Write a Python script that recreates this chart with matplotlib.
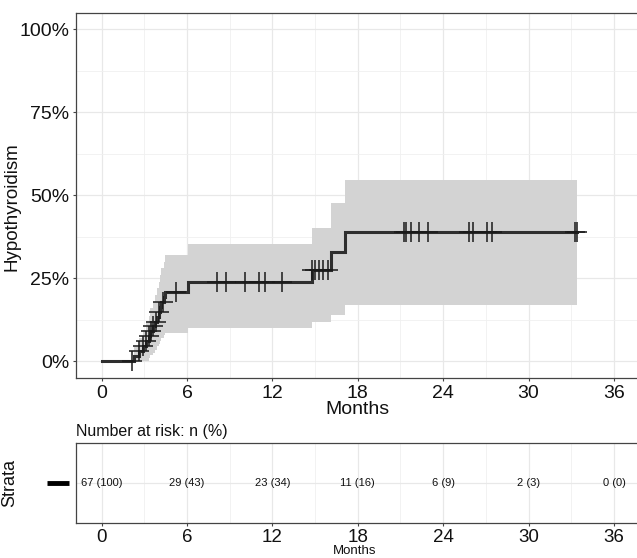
import numpy as np
import matplotlib
matplotlib.use("Agg")
import matplotlib.pyplot as plt
from matplotlib.ticker import MultipleLocator
from matplotlib.lines import Line2D

plt.rcParams['font.family'] = ['Liberation Sans', 'DejaVu Sans']

# ---- data ----
# event times (months) and cumulative incidence after each step
event_times = [0, 2.3, 2.6, 2.9, 3.1, 3.3, 3.4, 3.6, 3.75, 3.9, 4.0, 4.1, 4.2, 4.35, 4.45,
               6.05, 14.8, 16.1, 17.1, 33.38]
cum_inc = [0.0, 0.015, 0.030, 0.045, 0.060, 0.075, 0.090, 0.105, 0.120, 0.135, 0.150,
           0.165, 0.180, 0.195, 0.209, 0.238, 0.275, 0.330, 0.388, 0.388]
ci_lower = [0.0, 0.0, 0.0, 0.0, 0.001, 0.010, 0.018, 0.026, 0.035, 0.045, 0.053,
            0.062, 0.070, 0.078, 0.085, 0.099, 0.118, 0.140, 0.169, 0.169]
ci_upper = [0.0, 0.044, 0.070, 0.094, 0.117, 0.138, 0.160, 0.180, 0.200, 0.220, 0.240,
            0.260, 0.280, 0.300, 0.320, 0.353, 0.400, 0.476, 0.547, 0.547]

censor_times = [2.1, 2.6, 2.9, 3.1, 3.3, 3.5, 3.6, 3.85, 4.05, 4.3, 5.25,
                8.1, 8.75, 10.1, 11.06, 11.45, 12.68, 14.8,
                14.98, 15.28, 15.56, 15.91,
                21.26, 21.36, 21.71, 22.31, 22.95, 25.81, 26.11, 27.1, 27.45,
                33.26, 33.38]

risk_times = [0, 6, 12, 18, 24, 30, 36]
risk_n = [67, 29, 23, 11, 6, 2, 0]
risk_pct = [100, 43, 34, 16, 9, 3, 0]

y_ticks = [0, 0.25, 0.5, 0.75, 1.0]
y_tick_labels = ['0%', '25%', '50%', '75%', '100%']
x_ticks = [0, 6, 12, 18, 24, 30, 36]

# ---- figure ----
W, H = 637, 558
fig = plt.figure(figsize=(W / 100, H / 100), dpi=100)

x0, x1 = 76, 639.6
ax = fig.add_axes([x0 / W, 1 - 378 / H, (x1 - x0) / W, (378 - 12.5) / H])
ax.set_xlim(-1.8, 37.8)
ax.set_ylim(-0.05, 1.05)

grid_major = '#e8e8e8'
grid_minor = '#f0f0f0'

def style_axes(a, size=14, pad=2.5):
    a.set_facecolor('white')
    for s in a.spines.values():
        s.set_color('#444444')
        s.set_linewidth(0.9)
    a.grid(True, which='major', color=grid_major, linewidth=0.9, zorder=0)
    a.grid(True, which='minor', color=grid_minor, linewidth=0.6, zorder=0)
    a.set_axisbelow(True)
    a.tick_params(which='major', labelsize=size, length=2.5, width=0.8,
                  color='#444444', labelcolor='#111111', pad=pad)
    a.tick_params(which='minor', length=0)

style_axes(ax)
ax.set_xticks(x_ticks)
ax.xaxis.set_minor_locator(MultipleLocator(3))
ax.set_yticks(y_ticks)
ax.set_yticklabels(y_tick_labels)
ax.yaxis.set_minor_locator(MultipleLocator(0.125))

t = np.array(event_times)
ci = np.array(cum_inc)
ax.fill_between(t, ci_lower, ci_upper, step='post', color='#d3d3d3', linewidth=0, zorder=1)
ax.step(t, ci, where='post', color='#2e2e2e', linewidth=2.2, zorder=3, solid_joinstyle='miter')

ct = np.array(censor_times)
idx = np.searchsorted(t, ct, side='right') - 1
cy = ci[idx]
ax.plot(ct, cy, linestyle='none', marker='+', markersize=14, markeredgewidth=1.1,
        color='#1a1a1a', zorder=4)

ax.set_xlabel('Months', fontsize=14, labelpad=-1, color='#111111')
ax.set_ylabel('Hypothyroidism', fontsize=13.5, color='#111111')
ax.yaxis.set_label_coords((21 - x0) / (x1 - x0), 0.47)

# ---- risk table ----
tax = fig.add_axes([x0 / W, 1 - 523 / H, (x1 - x0) / W, (523 - 443) / H])
style_axes(tax, size=13.5, pad=1.5)
tax.set_xlim(-1.8, 37.8)
tax.set_ylim(0.5, 1.5)
tax.set_xticks(x_ticks)
tax.xaxis.set_minor_locator(MultipleLocator(3))
tax.set_yticks([1])
tax.set_yticklabels([''])
tax.tick_params(axis='y', length=0)
for tt, n, p in zip(risk_times, risk_n, risk_pct):
    tax.text(tt, 1, f'{n} ({p})', ha='center', va='center', fontsize=8, color='#111111')
tax.set_title('Number at risk: n (%)', loc='left', fontsize=11.5, pad=5, color='#111111')
tax.set_ylabel('Strata', fontsize=13, color='#111111')
tax.yaxis.set_label_coords((18 - x0) / (x1 - x0), 0.5)
fig.text(((x0 + x1) / 2 - 3) / W, 1 / H, 'Months', ha='center', va='bottom',
         fontsize=9.5, color='#111111')
# strata key
tax.add_line(Line2D([(47 - x0) / (x1 - x0), (69 - x0) / (x1 - x0)], [0.5, 0.5],
                    transform=tax.transAxes, color='#000000', linewidth=3.5,
                    clip_on=False, solid_capstyle='butt'))

fig.savefig('out.png', dpi=100)
